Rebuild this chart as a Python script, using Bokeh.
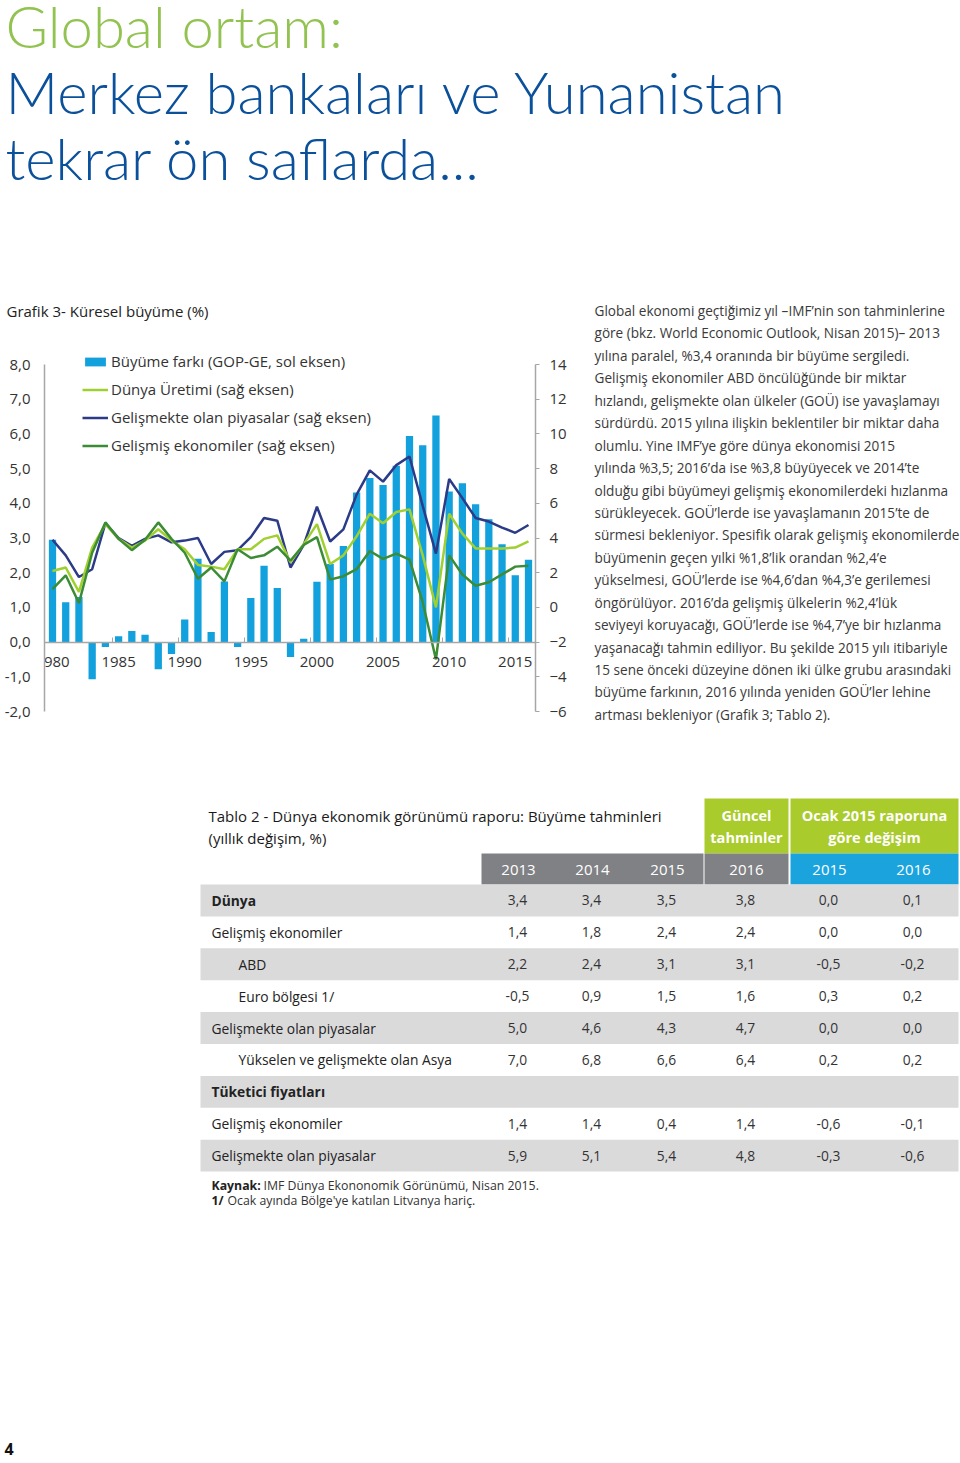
from bokeh.plotting import figure
from bokeh.models import Range1d, LinearAxis, FixedTicker, Legend, LegendItem, CustomJSTickFormatter
from bokeh.layouts import column, row
from bokeh.core.properties import value
from bokeh.embed import file_html
from bokeh.resources import INLINE

# ---------------- data ----------------
years = list(range(1980, 2017))
growth_gap = [2.95, 1.15, 1.3, -1.07, -0.14, 0.17, 0.32, 0.21, -0.78, -0.34,
              0.65, 2.4, 0.29, 1.75, -0.14, 1.27, 2.2, 1.56, -0.43, 0.1,
              1.74, 2.25, 2.77, 4.31, 4.73, 4.53, 5.08, 5.94, 5.67, 6.53,
              4.34, 4.58, 3.97, 3.54, 2.82, 1.93, 2.37]
world_output = [2.1, 2.3, 0.9, 3.45, 4.8, 3.95, 3.45, 3.85, 4.5, 3.85,
                3.35, 2.45, 2.35, 2.2, 3.35, 3.35, 3.95, 4.15, 2.6, 3.65,
                4.8, 2.5, 3.0, 4.1, 5.4, 4.85, 5.5, 5.65, 3.0, 0.0,
                5.4, 4.25, 3.4, 3.4, 3.4, 3.45, 3.8]
emerging = [3.9, 3.0, 1.75, 2.2, 4.85, 4.0, 3.55, 3.95, 4.15, 3.75,
            3.85, 4.0, 2.5, 3.2, 3.3, 4.05, 5.15, 5.0, 2.3, 3.6,
            5.8, 3.8, 4.5, 6.5, 7.9, 7.25, 8.2, 8.7, 5.85, 3.1,
            7.4, 6.3, 5.15, 4.95, 4.6, 4.3, 4.75]
advanced = [1.05, 1.85, 0.25, 3.15, 4.9, 3.95, 3.3, 3.9, 4.9, 3.95,
            3.15, 1.65, 2.3, 1.5, 3.35, 2.85, 3.0, 3.5, 2.7, 3.6,
            4.05, 1.6, 1.8, 2.2, 3.25, 2.8, 3.1, 2.75, 0.3, -3.0,
            3.0, 1.9, 1.25, 1.45, 1.9, 2.35, 2.4]
legend_labels = ["Büyüme farkı (GOP-GE, sol eksen)", "Dünya Üretimi (sağ eksen)",
                 "Gelişmekte olan piyasalar (sağ eksen)", "Gelişmiş ekonomiler (sağ eksen)"]
left_ticks = [-2, -1, 0, 1, 2, 3, 4, 5, 6, 7, 8]
right_ticks = [-6, -4, -2, 0, 2, 4, 6, 8, 10, 12, 14]
year_labels = [1980, 1985, 1990, 1995, 2000, 2005, 2010, 2015]
year_marks = [1984.5, 1989.5, 1994.5, 1999.5, 2004.5, 2009.5, 2014.5]

title_lines = ["Global ortam:", "Merkez bankaları ve Yunanistan", "tekrar ön saflarda..."]
chart_title = "Grafik 3- Küresel büyüme (%)"
paragraph = [
    "Global ekonomi geçtiğimiz yıl –IMF’nin son tahminlerine",
    "göre (bkz. World Economic Outlook, Nisan 2015)– 2013",
    "yılına paralel, %3,4 oranında bir büyüme sergiledi.",
    "Gelişmiş ekonomiler ABD öncülüğünde bir miktar",
    "hızlandı, gelişmekte olan ülkeler (GOÜ) ise yavaşlamayı",
    "sürdürdü. 2015 yılına ilişkin beklentiler bir miktar daha",
    "olumlu. Yine IMF’ye göre dünya ekonomisi 2015",
    "yılında %3,5; 2016’da ise %3,8 büyüyecek ve 2014’te",
    "olduğu gibi büyümeyi gelişmiş ekonomilerdeki hızlanma",
    "sürükleyecek. GOÜ’lerde ise yavaşlamanın 2015’te de",
    "sürmesi bekleniyor. Spesifik olarak gelişmiş ekonomilerde",
    "büyümenin geçen yılki %1,8’lik orandan %2,4’e",
    "yükselmesi, GOÜ’lerde ise %4,6’dan %4,3’e gerilemesi",
    "öngörülüyor. 2016’da gelişmiş ülkelerin %2,4’lük",
    "seviyeyi koruyacağı, GOÜ’lerde ise %4,7’ye bir hızlanma",
    "yaşanacağı tahmin ediliyor. Bu şekilde 2015 yılı itibariyle",
    "15 sene önceki düzeyine dönen iki ülke grubu arasındaki",
    "büyüme farkının, 2016 yılında yeniden GOÜ’ler lehine",
    "artması bekleniyor (Grafik 3; Tablo 2).",
]

table_title = ["Tablo 2 - Dünya ekonomik görünümü raporu: Büyüme tahminleri", "(yıllık değişim, %)"]
group_headers = [["Güncel", "tahminler"], ["Ocak 2015 raporuna", "göre değişim"]]
col_headers = ["2013", "2014", "2015", "2016", "2015", "2016"]
row_labels = ["Dünya", "Gelişmiş ekonomiler", "ABD", "Euro bölgesi 1/",
              "Gelişmekte olan piyasalar", "Yükselen ve gelişmekte olan Asya",
              "Tüketici fiyatları", "Gelişmiş ekonomiler", "Gelişmekte olan piyasalar"]
row_indent = [0, 0, 1, 1, 0, 1, 0, 0, 0]
row_bold = [1, 0, 0, 0, 0, 0, 1, 0, 0]
v2013 = [3.4, 1.4, 2.2, -0.5, 5.0, 7.0, None, 1.4, 5.9]
v2014 = [3.4, 1.8, 2.4, 0.9, 4.6, 6.8, None, 1.4, 5.1]
v2015 = [3.5, 2.4, 3.1, 1.5, 4.3, 6.6, None, 0.4, 5.4]
v2016 = [3.8, 2.4, 3.1, 1.6, 4.7, 6.4, None, 1.4, 4.8]
d2015 = [0.0, 0.0, -0.5, 0.3, 0.0, 0.2, None, -0.6, -0.3]
d2016 = [0.1, 0.0, -0.2, 0.2, 0.0, 0.2, None, -0.1, -0.6]
source_note = ["Kaynak:", "IMF Dünya Ekononomik Görünümü, Nisan 2015."]
foot_note = ["1/", "Ocak ayında Bölge'ye katılan Litvanya hariç."]
page_number = "4"

# ---------------- styles ----------------
FONT = "Open Sans"
TITLE_FONT = "Lato Light, Open Sans"
BAR = "#12A1DD"
C_WORLD = "#A0D030"
C_EM = "#2C3B87"
C_ADV = "#3B8C35"
TXT = "#333333"
AX = "#A6A6A6"


def canvas(w, h):
    f = figure(width=w, height=h, x_range=Range1d(0, w), y_range=Range1d(h, 0),
               output_backend="svg", toolbar_location=None, min_border=0,
               x_axis_type=None, y_axis_type=None, title=None)
    f.outline_line_color = None
    f.background_fill_color = "white"
    f.border_fill_color = "white"
    return f


def txt(f, x, y, s, size, color, style="normal", align="left", baseline="middle", font=FONT):
    f.text(x=[x], y=[y], text=[s], text_font=value(font), text_font_size=f"{size}px",
           text_color=color, text_font_style=style, text_align=align, text_baseline=baseline)


W = 960

# ---------------- header ----------------
header = canvas(W, 298)
txt(header, 5, 25, title_lines[0], 58, "#92C350", font=TITLE_FONT)
txt(header, 5, 91, title_lines[1], 58, "#0A509B", font=TITLE_FONT)
txt(header, 5, 157, title_lines[2], 58, "#0A509B", font=TITLE_FONT)

heading = canvas(586, 40)
txt(heading, 6, 12, chart_title, 15, "#222222")

# ---------------- chart ----------------
PXU = 34.7            # pixels per left-axis unit
EXT = 16 / PXU        # extra room above the top tick for the legend
px_year = 491 / 37.135
p = figure(width=586, height=422,
           x_range=Range1d(1980 - 8 / px_year, 2016 + 7 / px_year),
           y_range=Range1d(-2, 8 + EXT), output_backend="svg", toolbar_location=None,
           x_axis_type=None, y_axis_type=None, title=None,
           min_border_left=44, min_border_right=51, min_border_top=10, min_border_bottom=49)
p.outline_line_color = None
p.extra_y_ranges = {"r": Range1d(-6, 14 + 2 * EXT)}

bars = p.vbar(x=years, top=growth_gap, bottom=0, width=0.55, fill_color=BAR, line_color=None)
l_em = p.line(years, emerging, y_range_name="r", line_color=C_EM, line_width=2.5)
l_world = p.line(years, world_output, y_range_name="r", line_color=C_WORLD, line_width=2.5)
l_adv = p.line(years, advanced, y_range_name="r", line_color=C_ADV, line_width=2.5)

ly = LinearAxis(ticker=FixedTicker(ticks=left_ticks), bounds=(-2, 8),
                formatter=CustomJSTickFormatter(code="return tick.toFixed(1).replace('.', ',')"),
                axis_line_color=AX, axis_line_width=1.5, major_tick_in=0, major_tick_out=0,
                major_label_standoff=14, major_label_text_font=FONT,
                major_label_text_font_size="15px", major_label_text_color=TXT)
p.add_layout(ly, "left")

ry = LinearAxis(y_range_name="r", ticker=FixedTicker(ticks=right_ticks), bounds=(-6, 14),
                axis_line_color=AX, axis_line_width=1.5, major_tick_in=0, major_tick_out=4,
                major_tick_line_color=AX, major_label_standoff=10, major_label_text_font=FONT,
                major_label_text_font_size="15px", major_label_text_color=TXT)
p.add_layout(ry, "right")

xl = LinearAxis(ticker=FixedTicker(ticks=year_labels), fixed_location=0,
                axis_line_color=None, major_tick_in=0, major_tick_out=0,
                major_label_standoff=15, major_label_text_font=FONT,
                major_label_text_font_size="15px", major_label_text_color=TXT)
p.add_layout(xl, "below")

xt = LinearAxis(ticker=FixedTicker(ticks=year_marks), fixed_location=0,
                formatter=CustomJSTickFormatter(code="return ''"),
                axis_line_color=AX, axis_line_width=1.5, major_tick_in=5, major_tick_out=0,
                major_tick_line_color=AX, major_label_standoff=0)
p.add_layout(xt, "below")

legend = Legend(items=[LegendItem(label=legend_labels[0], renderers=[bars]),
                       LegendItem(label=legend_labels[1], renderers=[l_world]),
                       LegendItem(label=legend_labels[2], renderers=[l_em]),
                       LegendItem(label=legend_labels[3], renderers=[l_adv])],
                location=(38, 256), orientation="vertical", padding=0, margin=0,
                spacing=8, label_height=11, glyph_height=11, glyph_width=26,
                label_standoff=3, border_line_color=None, background_fill_alpha=0,
                label_text_font=FONT, label_text_font_size="15px", label_text_color=TXT)
p.add_layout(legend)

# ---------------- paragraph ----------------
textfig = canvas(W - 586, 462)
for i, line in enumerate(paragraph):
    txt(textfig, 8, 12 + i * 22.44, line, 13.6, "#3a3a3a")

# ---------------- table ----------------
bottom = canvas(W, 701)
txt(bottom, 208, 55, table_title[0], 15, "#1a1a1a")
txt(bottom, 208, 77, table_title[1], 15, "#1a1a1a")

GREEN = "#A9CB2C"
GRAY_H = "#808184"
CYAN = "#1AA3DD"
ROW_GRAY = "#DADADB"

bottom.quad(left=[704, 790], right=[788, 958], top=[38, 38], bottom=[93, 93],
            fill_color=GREEN, line_color=None)
bottom.quad(left=[481, 704], right=[703, 788], top=[93, 93], bottom=[124, 124],
            fill_color=GRAY_H, line_color=None)
bottom.quad(left=[790], right=[958], top=[93], bottom=[124], fill_color=CYAN, line_color=None)

for j, (a, b2) in enumerate(group_headers):
    cx = [746, 874][j]
    txt(bottom, cx, 55, a, 14.5, "white", style="bold", align="center")
    txt(bottom, cx, 77, b2, 14.5, "white", style="bold", align="center")

hdr_x = [518, 592, 667, 746, 829, 913]
val_x = [517, 591, 666, 745, 828, 912]
for cx, h in zip(hdr_x, col_headers):
    txt(bottom, cx, 109, h, 15, "white", align="center")

row_top0 = 124
pitch = 31.9
cols = [v2013, v2014, v2015, v2016, d2015, d2016]
for i, lab in enumerate(row_labels):
    top = row_top0 + i * pitch
    if i % 2 == 0:
        bottom.quad(left=[200], right=[958], top=[top], bottom=[top + pitch],
                    fill_color=ROW_GRAY, line_color=None)
    cy = top + pitch / 2
    txt(bottom, 238 if row_indent[i] else 211, cy, lab, 13.8, "#222222",
        style="bold" if row_bold[i] else "normal")
    for cx, col in zip(val_x, cols):
        v = col[i]
        if v is not None:
            txt(bottom, cx, cy, f"{v:.1f}".replace(".", ","), 13.8, "#333333", align="center")

txt(bottom, 211, 425, source_note[0], 12.3, "#222222", style="bold")
txt(bottom, 263, 425, source_note[1], 12.3, "#333333")
txt(bottom, 211, 440, foot_note[0], 12.3, "#222222", style="bold")
txt(bottom, 227, 440, foot_note[1], 12.3, "#333333")
txt(bottom, 4, 688, page_number, 16, "#111111", style="bold")

layout = column(header,
                row(column(column(heading), column(p)), column(textfig)),
                bottom)

open("out.html", "w").write(file_html(layout, INLINE))
